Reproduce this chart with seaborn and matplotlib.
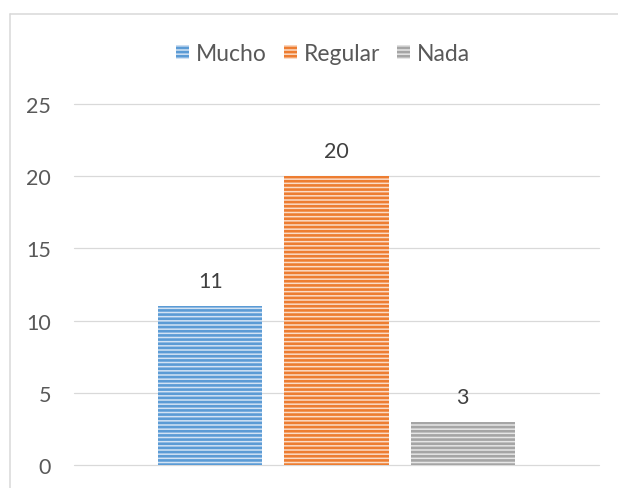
import matplotlib
matplotlib.use("Agg")
import matplotlib.pyplot as plt
import seaborn as sns
from matplotlib.patches import Patch
from matplotlib.lines import Line2D

# Data
categories = ["Mucho", "Regular", "Nada"]
values = [11, 20, 3]
y_ticks = [0, 5, 10, 15, 20, 25]

dark_colors = ["#5B9BD5", "#ED7D31", "#A5A5A5"]
light_colors = ["#D3E3F4", "#FBDCC7", "#E6E6E6"]

sns.set_theme(style="white")
plt.rcParams["font.family"] = ["Lato", "DejaVu Sans"]
plt.rcParams["hatch.linewidth"] = 1.9

W, H = 618, 489
fig = plt.figure(figsize=(W / 100, H / 100), dpi=100)
fig.patch.set_facecolor("white")

ax = fig.add_axes([74 / W, (H - 466) / H, (599 - 74) / W, (466 - 105) / H])
ax.set_facecolor("white")

sns.barplot(x=categories, y=values, hue=categories, palette=dark_colors,
            width=0.825, legend=False, saturation=1, ax=ax)

bars = [p for c in ax.containers for p in c]
for p, dc, lc in zip(bars, dark_colors, light_colors):
    p.set_facecolor(lc)
    p.set_edgecolor(dc)
    p.set_hatch("----")
    p.set_linewidth(0)

ax.set_ylim(0, 25)
ax.set_xlim(-1.08, 3.08)
ax.set_yticks(y_ticks)
ax.set_yticklabels([str(t) for t in y_ticks])
ax.set_xticks([])
ax.set_xlabel("")
ax.set_ylabel("")
for s in ax.spines.values():
    s.set_visible(False)
ax.tick_params(axis="y", length=0, pad=16.5, labelsize=15.5, labelcolor="#595959")
ax.yaxis.grid(True, color="#D9D9D9", linewidth=0.9)
ax.set_axisbelow(True)
for gl in ax.get_ygridlines():
    gl.set_clip_on(False)

for i, v in enumerate(values):
    ax.annotate(str(v), xy=(i, v), xytext=(0, 18), textcoords="offset points",
                ha="center", va="center", fontsize=15.5, color="#404040")

handles = [Patch(facecolor=lc, edgecolor=dc, hatch="----", linewidth=0)
           for dc, lc in zip(dark_colors, light_colors)]
for h, dc in zip(handles, dark_colors):
    h.set_edgecolor(dc)
    h.set_linewidth(0)
leg = fig.legend(handles, categories, loc="center", bbox_to_anchor=(323 / W, 1 - 54.5 / H),
                 ncol=3, frameon=False, fontsize=16.5, handlelength=0.57, handleheight=0.57,
                 handletextpad=0.28, columnspacing=0.75, borderpad=0, borderaxespad=0)
for t in leg.get_texts():
    t.set_color("#595959")

# chart border (only top and left visible inside the image)
fig.add_artist(Line2D([9.5 / W, 1.0], [1 - 14.5 / H, 1 - 14.5 / H],
                      transform=fig.transFigure, color="#D9D9D9", linewidth=1.1))
fig.add_artist(Line2D([9.5 / W, 9.5 / W], [1 - 14.5 / H, 0.0],
                      transform=fig.transFigure, color="#D9D9D9", linewidth=1.1))

fig.savefig("out.png", dpi=100, facecolor="white")
